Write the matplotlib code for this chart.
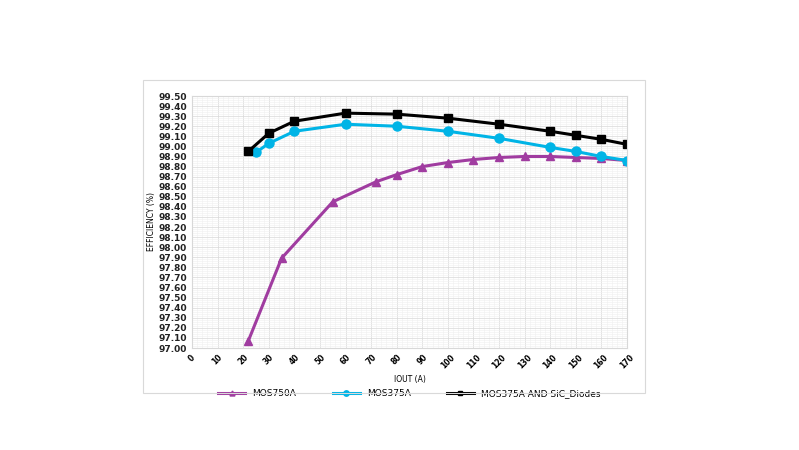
import matplotlib
matplotlib.use("Agg")
import matplotlib.pyplot as plt
from matplotlib.ticker import MultipleLocator
import numpy as np

x_mos750 = [22, 35, 55, 72, 80, 90, 100, 110, 120, 130, 140, 150, 160, 170]
y_mos750 = [97.07, 97.89, 98.45, 98.65, 98.72, 98.80, 98.84, 98.87, 98.89, 98.90, 98.90, 98.89, 98.88, 98.86]
x_mos375 = [25, 30, 40, 60, 80, 100, 120, 140, 150, 160, 170]
y_mos375 = [98.94, 99.03, 99.15, 99.22, 99.20, 99.15, 99.08, 98.99, 98.95, 98.90, 98.86]
x_sic = [22, 30, 40, 60, 80, 100, 120, 140, 150, 160, 170]
y_sic = [98.95, 99.13, 99.25, 99.33, 99.32, 99.28, 99.22, 99.15, 99.11, 99.07, 99.02]

fig = plt.figure(figsize=(7.99, 4.5), dpi=100)
fig.patches.append(plt.Rectangle((143/799, 1-393/450), 502/799, 313/450, transform=fig.transFigure,
                                 fill=False, edgecolor="#d9d9d9", lw=0.8))
ax = fig.add_axes([192/799, 1-348/450, 435/799, 252/450])
ax.plot(x_mos750, y_mos750, color="#a03ca0", lw=2.2, marker="^", ms=6, label="MOS750A")
ax.plot(x_mos375, y_mos375, color="#00b4e6", lw=2.2, marker="o", ms=6.5, label="MOS375A")
ax.plot(x_sic, y_sic, color="black", lw=2.2, marker="s", ms=6, label="MOS375A AND SiC_Diodes")
ax.set_xlim(0, 170)
ax.set_ylim(97.0, 99.5)
ax.xaxis.set_minor_locator(MultipleLocator(2))
ax.yaxis.set_minor_locator(MultipleLocator(0.02))
ax.grid(which="major", color="#d8d8d8", lw=0.5)
ax.grid(which="minor", color="#f0f0f0", lw=0.4)
ax.set_axisbelow(True)
for s in ax.spines.values():
    s.set_color("#d8d8d8")
ax.tick_params(which="both", length=0)
yt = np.arange(97.0, 99.51, 0.1)
ax.set_yticks(yt)
ax.set_yticklabels([f"{v:.2f}" for v in yt], fontsize=6.5, fontweight="bold", color="#222222")
ax.set_xticks(range(0, 171, 10))
ax.set_xticklabels([str(v) for v in range(0, 171, 10)], fontsize=5.5, rotation=45, fontweight="bold")
ax.set_xlabel("IOUT (A)", fontsize=5.5, labelpad=3)
ax.set_ylabel("EFFICIENCY (%)", fontsize=5.5, labelpad=2)
ax.legend(loc="upper center", bbox_to_anchor=(0.5, -0.13), ncol=3, frameon=False, fontsize=6.5,
          markerscale=0.6, handlelength=3, columnspacing=4)
fig.savefig("out.png", dpi=100)
